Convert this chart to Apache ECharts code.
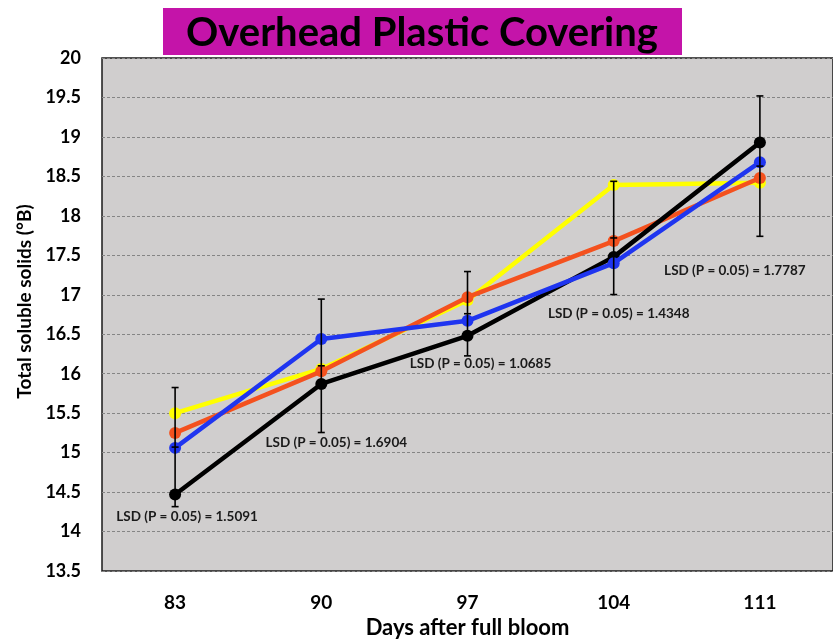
<!DOCTYPE html>
<html>
<head>
<meta charset="utf-8">
<script src="https://cdn.jsdelivr.net/npm/echarts@6/dist/echarts.min.js"></script>
<style>
  html, body { margin: 0; padding: 0; background: #ffffff; }
  #chart { width: 833px; height: 641px; }
</style>
</head>
<body>
<div id="chart"></div>
<script>
// Sampling dates (days after full bloom)
const days = ['83', '90', '97', '104', '111'];

// Total soluble solids (°B) for each treatment line
const blackSeries  = [14.47, 15.87, 16.48, 17.48, 18.93];
const blueSeries   = [15.06, 16.44, 16.67, 17.40, 18.68];
const orangeSeries = [15.25, 16.03, 16.97, 17.68, 18.48];
const yellowSeries = [15.50, 16.06, 16.93, 18.39, 18.42];

// LSD bars: centre of each bar and its full length (LSD at P = 0.05)
const lsdCentres = [15.07, 16.10, 16.76, 17.72, 18.63];
const lsdValues  = [1.5091, 1.6904, 1.0685, 1.4348, 1.7787];

// Y axis range
const yMin = 13.5, yMax = 20, yStep = 0.5;

// Pixel offsets of each LSD caption from the bottom of its bar
const lsdLabelOffsets = [[12, 10], [15, 10], [13, 8], [5, 19], [-25, 34]];

const FONT = 'Lato, "Open Sans", sans-serif';

const chart = echarts.init(document.getElementById('chart'), null, { renderer: 'canvas' });

function lineSeries(name, data, color, z) {
  return {
    name: name,
    type: 'line',
    data: data,
    z: z,
    symbol: 'circle',
    symbolSize: 12,
    lineStyle: { color: color, width: 4.5 },
    itemStyle: { color: color },
    emphasis: { disabled: true },
    animation: false
  };
}

const option = {
  animation: false,
  grid: {
    left: 102, right: 0, top: 58, bottom: 70,
    outerBoundsMode: 'none',
    containLabel: false,
    show: true,
    backgroundColor: '#d0cece',
    borderColor: '#1a1a1a',
    borderWidth: 1.5
  },
  graphic: [
    {
      type: 'rect',
      shape: { x: 163, y: 8, width: 519, height: 47 },
      style: { fill: '#c414a9' },
      z: 10
    },
    {
      type: 'text',
      x: 422, y: 33,
      style: {
        text: 'Overhead Plastic Covering',
        font: 'bold 40px ' + FONT,
        fill: '#000000',
        align: 'center',
        verticalAlign: 'middle'
      },
      z: 11
    }
  ],
  xAxis: {
    type: 'category',
    data: days,
    boundaryGap: true,
    axisLine: { show: false },
    axisTick: { show: false },
    splitLine: { show: false },
    axisLabel: {
      color: '#000', fontFamily: FONT, fontWeight: 'bold', fontSize: 19, margin: 22
    },
    name: 'Days after full bloom',
    nameLocation: 'middle',
    nameGap: 46,
    nameTextStyle: { color: '#000', fontFamily: FONT, fontWeight: 'bold', fontSize: 22 }
  },
  yAxis: {
    type: 'value',
    min: yMin, max: yMax, interval: yStep,
    axisLine: { show: false },
    axisTick: { show: false },
    splitLine: { show: true, lineStyle: { color: '#858585', width: 1, type: [3, 2] } },
    axisLabel: {
      color: '#000', fontFamily: FONT, fontWeight: 'bold', fontSize: 18, margin: 21
    },
    name: 'Total soluble solids (°B)',
    nameLocation: 'middle',
    nameGap: 63,
    nameTextStyle: {
      color: '#000', fontFamily: FONT, fontWeight: 'bold', fontSize: 19,
      padding: [0, 0, 0, 26]
    }
  },
  series: [
    lineSeries('Yellow', yellowSeries, '#ffff00', 2),
    lineSeries('Orange', orangeSeries, '#f4511e', 3),
    lineSeries('Black', blackSeries, '#000000', 4),
    lineSeries('Blue', blueSeries, '#1f35f0', 5),
    {
      name: 'LSD',
      type: 'custom',
      z: 6,
      animation: false,
      data: days.map((d, i) => [i, lsdCentres[i], lsdValues[i]]),
      renderItem: function (params, api) {
        const i = api.value(0);
        const c = api.value(1);
        const l = api.value(2);
        const top = api.coord([i, c + l / 2]);
        const bot = api.coord([i, c - l / 2]);
        const mid = api.coord([i, c]);
        const cap = 3.5;
        const st = { stroke: '#000', lineWidth: 1.6 };
        const off = lsdLabelOffsets[params.dataIndex];
        return {
          type: 'group',
          children: [
            { type: 'line', shape: { x1: top[0], y1: top[1], x2: bot[0], y2: bot[1] }, style: st },
            { type: 'line', shape: { x1: top[0] - cap, y1: top[1], x2: top[0] + cap, y2: top[1] }, style: st },
            { type: 'line', shape: { x1: bot[0] - cap, y1: bot[1], x2: bot[0] + cap, y2: bot[1] }, style: st },
            { type: 'line', shape: { x1: mid[0] - cap, y1: mid[1], x2: mid[0] + cap, y2: mid[1] }, style: st },
            {
              type: 'text',
              x: bot[0] + off[0], y: bot[1] + off[1],
              style: {
                text: 'LSD (P = 0.05) = ' + l.toFixed(4),
                font: 'bold 13.5px ' + FONT,
                fill: '#1a1a1a',
                align: 'center',
                verticalAlign: 'middle'
              }
            }
          ]
        };
      }
    }
  ]
};

chart.setOption(option);
</script>
</body>
</html>
